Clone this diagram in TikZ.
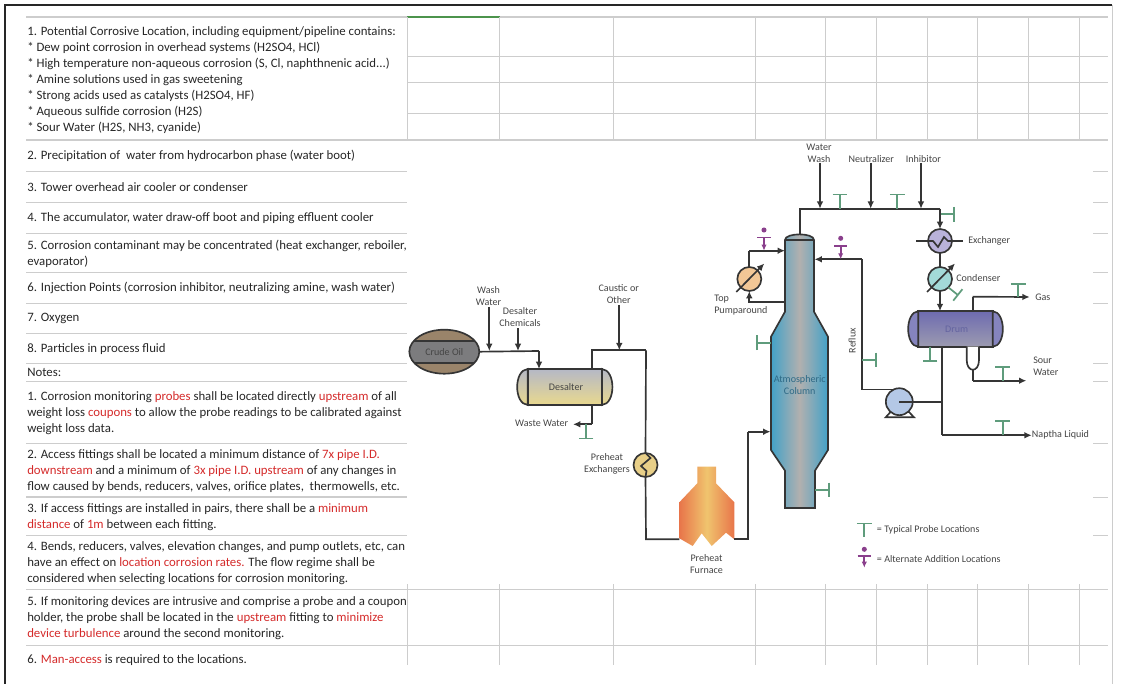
\documentclass[tikz,border=0pt]{standalone}
\usepackage{fontspec}
\setmainfont{Carlito}
\usepackage{xcolor}
\usetikzlibrary{positioning,arrows.meta,shapes.geometric}
\definecolor{textdark}{HTML}{262626}
\definecolor{textred}{HTML}{D42A2A}
\definecolor{tagtext}{HTML}{454545}
\definecolor{rulegray}{HTML}{CDCDCD}
\definecolor{pipedark}{HTML}{353535}
\definecolor{probegreen}{HTML}{5F9C7C}
\definecolor{addpurple}{HTML}{8A3F8C}
\definecolor{colblue}{HTML}{42A2C8}
\definecolor{colgray}{HTML}{B2B0AF}
\definecolor{coltext}{HTML}{2F6A86}
\definecolor{oiltan}{HTML}{9A846A}
\definecolor{oilgray}{HTML}{7C7C7E}
\definecolor{saltop}{HTML}{B5B8C6}
\definecolor{salbottom}{HTML}{E9D98E}
\definecolor{furnedge}{HTML}{E8754A}
\definecolor{furnmid}{HTML}{F0C46E}
\definecolor{prehxfill}{HTML}{E8CF88}
\definecolor{exfill}{HTML}{B9B2DA}
\definecolor{condfill}{HTML}{A3DAD8}
\definecolor{aroundfill}{HTML}{F2C796}
\definecolor{pumpfill}{HTML}{B4C8E6}
\definecolor{drumtop}{HTML}{6E6BB0}
\definecolor{drumbottom}{HTML}{9C9BB0}
\definecolor{drumcap}{HTML}{8584BE}
\definecolor{drumtext}{HTML}{6464A0}
\newcommand{\redtxt}[1]{\textcolor{textred}{#1}}
\begin{document}
\begin{tikzpicture}[
    x=0.75pt, y=-0.75pt,
    rowtext/.style={anchor=west, align=left, inner sep=0, text=textdark, font=\fontsize{9.6}{12}\selectfont},
    tag/.style={align=center, inner sep=0, text=tagtext, font=\fontsize{7.55}{9}\selectfont},
    lefttag/.style={tag, anchor=west, align=left},
    frameline/.style={draw=black!85, line width=1pt},
    rowrule/.style={draw=rulegray, line width=0.7pt},
    gridline/.style={draw=rulegray, line width=0.6pt},
    pipe/.style={draw=pipedark, line width=1.25pt},
    flow/.style={pipe, -{Latex[length=5.5pt,width=5pt]}},
    vessel/.style={draw=pipedark, line width=1.25pt, inner sep=0, outer sep=0},
    round/.style={vessel, circle, minimum size=18pt},
    probe/.style={draw=probegreen, line width=1.3pt, -{Bar[width=11pt,line width=1.3pt]}},
    addition/.style={draw=addpurple, line width=1.3pt, {Bar[width=10pt,line width=1.3pt]}-{Latex[length=4.5pt,width=4pt]}},
    adddot/.style={circle, fill=addpurple, inner sep=0, minimum size=3.8pt}
]
    \useasboundingbox (0,0) rectangle (1125,684);

    \draw[frameline] (5,684) -- (5,5) -- (1112,5);
    \draw[draw=black!20, line width=0.5pt] (1112,5) -- (1112,684);

    \draw[gridline, line width=0.9pt] (26,17) -- (1108,17);
    \draw[draw=black!60!green!70, line width=1pt] (407,17) -- (499.5,17);
    \draw[gridline] (407,56) -- (1108,56) (407,82) -- (1108,82) (407,113.7) -- (1108,113.7);
    \draw[gridline, line width=0.9pt] (26,140) -- (1108,140);
    \draw[gridline] (407,17) -- (407,140) (499.5,17) -- (499.5,140) (613.6,17) -- (613.6,140) (755,17) -- (755,140) (825.3,17) -- (825.3,140);
    \draw[gridline] (876,17) -- (876,140) (927,17) -- (927,140) (977.5,17) -- (977.5,140) (1028,17) -- (1028,140) (1079,17) -- (1079,140);

    \draw[rowrule] (26,171) -- (407,171) (26,202) -- (407,202) (26,233) -- (407,233) (26,272) -- (407,272);
    \draw[rowrule] (26,303) -- (407,303) (26,333) -- (407,333) (26,363.5) -- (407,363.5) (26,381) -- (407,381);
    \draw[rowrule] (26,443) -- (407,443) (26,535) -- (407,535);
    \draw[rowrule, line width=1pt] (26,497) -- (407,497) (26,589.5) -- (1108,589.5);
    \draw[rowrule] (26,645) -- (1108,645);
    \draw[rowrule] (1093,171) -- (1108,171) (1093,202) -- (1108,202) (1093,233) -- (1108,233) (1093,272) -- (1108,272) (1093,303) -- (1108,303);
    \draw[rowrule] (1093,363.5) -- (1108,363.5) (1093,381) -- (1108,381) (1093,443) -- (1108,443) (1093,497) -- (1108,497) (1093,535) -- (1108,535);
    \draw[gridline] (407,584) -- (407,665) (499.5,584) -- (499.5,665) (613.6,584) -- (613.6,665) (755,584) -- (755,665) (825.3,584) -- (825.3,665);
    \draw[gridline] (876,584) -- (876,665) (927,584) -- (927,665) (977.5,584) -- (977.5,665) (1028,584) -- (1028,665) (1079,584) -- (1079,665);

    \node[rowtext] (item1) at (27,80.5) {1. Potential Corrosive Location, including equipment/pipeline contains:\\* Dew point corrosion in overhead systems (H2SO4, HCl)\\* High temperature non-aqueous corrosion (S, Cl, naphthnenic acid...)\\* Amine solutions used in gas sweetening\\* Strong acids used as catalysts (H2SO4, HF)\\* Aqueous sulfide corrosion (H2S)\\* Sour Water (H2S, NH3, cyanide)};
    \node[rowtext] (item2) at (27,156) {2. Precipitation of\ \ water from hydrocarbon phase (water boot)};
    \node[rowtext] (item3) at (27,187) {3. Tower overhead air cooler or condenser};
    \node[rowtext] (item4) at (27,218) {4. The accumulator, water draw-off boot and piping effluent cooler};
    \node[rowtext] (item5) at (27,253.5) {5. Corrosion contaminant may be concentrated (heat exchanger, reboiler,\\evaporator)};
    \node[rowtext] (item6) at (27,287.5) {6. Injection Points (corrosion inhibitor, neutralizing amine, wash water)};
    \node[rowtext] (item7) at (27,318.5) {7. Oxygen};
    \node[rowtext] (item8) at (27,349) {8. Particles in process fluid};
    \node[rowtext] (notes) at (27,372.7) {Notes:};
    \node[rowtext] (note1) at (27,413) {1. Corrosion monitoring \redtxt{probes} shall be located directly \redtxt{upstream} of all\\weight loss \redtxt{coupons} to allow the probe readings to be calibrated against\\weight loss data.};
    \node[rowtext] (note2) at (27,471.5) {2. Access fittings shall be located a minimum distance of \redtxt{7x pipe I.D.}\\\redtxt{downstream} and a minimum of \redtxt{3x pipe I.D. upstream} of any changes in\\flow caused by bends, reducers, valves, orifice plates,\ \ thermowells, etc.};
    \node[rowtext] (note3) at (27,517) {3. If access fittings are installed in pairs, there shall be a \redtxt{minimum}\\\redtxt{distance} of \redtxt{1m} between each fitting.};
    \node[rowtext] (note4) at (27,563.5) {4. Bends, reducers, valves, elevation changes, and pump outlets, etc, can\\have an effect on \redtxt{location corrosion rates.} The flow regime shall be\\considered when selecting locations for corrosion monitoring.};
    \node[rowtext] (note5) at (27,618) {5. If monitoring devices are intrusive and comprise a probe and a coupon\\holder, the probe shall be located in the \redtxt{upstream} fitting to \redtxt{minimize}\\\redtxt{device turbulence} around the second monitoring.};
    \node[rowtext] (note6) at (27,660) {6. \redtxt{Man-access} is required to the locations.};

    \node[vessel, ellipse, minimum width=52.5pt, minimum height=33pt, fill=oilgray, path picture={
        \fill[oiltan] (path picture bounding box.north west) rectangle ++(70,11);
        \fill[oiltan] (path picture bounding box.south west) rectangle ++(70,-11);
        \draw[pipe] (path picture bounding box.north west) ++(0,11) -- ++(70,0);
        \draw[pipe] (path picture bounding box.south west) ++(0,-11) -- ++(70,0);
    }] (crude) at (444.3,351.7) {};
    \node[tag] (crudetag) at (444.3,351.7) {Crude Oil};

    \node[vessel, minimum width=55.7pt, minimum height=27pt, top color=saltop, bottom color=salbottom] (desalter) at (564.8,387) {};
    \draw[vessel, top color=saltop, bottom color=salbottom] (desalter.north west) .. controls +(-14,1) and +(-14,-1) .. (desalter.south west) -- cycle;
    \draw[vessel, top color=saltop, bottom color=salbottom] (desalter.north east) .. controls +(14,1) and +(14,-1) .. (desalter.south east) -- cycle;
    \node[tag] (desaltertag) at (566,387) {Desalter};

    \node[tag] (washtag) at (488.5,296) {Wash\\Water};
    \node[tag] (chemtag) at (520,317.5) {Desalter\\Chemicals};
    \node[tag] (caustictag) at (618.7,294.5) {Caustic or\\Other};
    \node[tag] (wastetag) at (541.7,423) {Waste Water};

    \coordinate (crudeline) at (539,351);
    \coordinate (washjoin) at (489.3,351);
    \coordinate (chemjoin) at (518,351);
    \coordinate (desalterin) at (539,369);
    \coordinate (desalterout) at (592,369);
    \coordinate (drainout) at (592,405);
    \coordinate (draincorner) at (592,424.3);
    \coordinate (wasteend) at (573,424.3);
    \coordinate (drainprobe) at (586,424.3);
    \coordinate (causticcorner) at (592,350.3);
    \coordinate (causticjoin) at (619.3,350.3);
    \coordinate (rundown) at (646,350.3);

    \draw[pipe] (crude.east) -- (crudeline);
    \draw[flow] (crudeline) -- (desalterin);
    \draw[flow] (washtag.south -| washjoin) ++(0,1) -- (washjoin);
    \draw[flow] (chemtag.south -| chemjoin) ++(0,1) -- (chemjoin);
    \draw[flow] (caustictag.south -| causticjoin) ++(0,1) -- (causticjoin);
    \draw[pipe] (desalterout) -- (causticcorner) -- (rundown);
    \draw[pipe] (drainout) -- (draincorner);
    \draw[flow] (draincorner) -- (wasteend);
    \draw[probe] (drainprobe) -- ++(0,15);

    \node[round, fill=prehxfill] (prehx) at (645.5,465) {};
    \node[tag, anchor=east, align=center] (prehxtag) at (630,464) {Preheat\\Exchangers};
    \draw[pipe] (prehx.north) -- ++(5,5) -- ++(-9.5,8) -- ++(5.5,5) -- (prehx.south);
    \draw[pipe] (rundown) -- (prehx.north);

    \path[left color=furnedge, right color=furnedge, middle color=furnmid] (697.3,466.7) -- (716,466.7) -- (716,483.3) -- (734.3,502.3) -- (734.3,539.3) -- (726,532.7) -- (711.7,546) -- (701.7,533.3) -- (692.7,546) -- (679.3,538.3) -- (679.3,502.3) -- (697.3,483.3) -- cycle;
    \node[tag] (furnacetag) at (706.5,564) {Preheat\\Furnace};
    \coordinate (furnacein) at (679.3,539.3);
    \coordinate (furnacecorner) at (646,539.3);
    \coordinate (furnaceout) at (734.3,539.3);
    \coordinate (risercorner) at (748,539.3);
    \coordinate (riser) at (748,431.7);
    \coordinate (colfeed) at (770.5,431.7);
    \draw[pipe] (prehx.south) -- (furnacecorner) -- (furnacein);
    \draw[pipe] (furnaceout) -- (risercorner) -- (riser);
    \draw[flow] (riser) -- (colfeed);

    \draw[vessel, left color=colblue, right color=colblue, middle color=colgray] (785,240) .. controls (785,232.5) and (814,232.5) .. (814,240) -- (814,311.7) -- (828,336.7) -- (828,450) -- (815,470.7) -- (815,508) -- (785,508) -- (785,470.7) -- (771,450) -- (771,336.7) -- (785,311.7) -- cycle;
    \draw[pipe] (785,240) -- (814,240);
    \node[tag, text=coltext] (columntag) at (799.7,385) {Atmospheric\\Column};
    \coordinate (coltop) at (800,234);
    \coordinate (coltopin) at (785,250.7);
    \coordinate (coltopout) at (785,302.3);
    \coordinate (colreflux) at (814.5,259.3);
    \coordinate (colprobeleft) at (771,342.7);
    \coordinate (colproberight) at (815,490);
    \draw[probe] (colprobeleft) -- ++(-15,0);
    \draw[probe] (colproberight) -- ++(15,0);

    \coordinate (overheadcorner) at (800,208.7);
    \coordinate (overheadend) at (940,208.7);
    \coordinate (washjointop) at (820,208.7);
    \coordinate (neutjoin) at (870.7,208.7);
    \coordinate (inhibjoin) at (921,208.7);
    \coordinate (overheadprobea) at (840,208.7);
    \coordinate (overheadprobeb) at (897.3,208.7);
    \coordinate (overheadprobec) at (940,214.3);
    \node[tag] (watertag) at (819,153) {Water\\Wash};
    \node[tag] (neuttag) at (871.3,159) {Neutralizer};
    \node[tag] (inhibtag) at (923.3,159) {Inhibitor};
    \draw[pipe] (coltop) -- (overheadcorner) -- (overheadend);
    \draw[flow] (watertag.south -| washjointop) -- (washjointop);
    \draw[flow] (neuttag.south -| neutjoin) -- (neutjoin);
    \draw[flow] (inhibtag.south -| inhibjoin) -- (inhibjoin);
    \draw[probe] (overheadprobea) -- ++(0,-15);
    \draw[probe] (overheadprobeb) -- ++(0,-15);
    \draw[probe] (overheadprobec) -- ++(15,0);

    \node[round, fill=exfill] (exchanger) at (940,241) {};
    \node[lefttag] (exchangertag) at (968,241) {Exchanger};
    \draw[flow] (overheadend) -- (exchanger.north);
    \draw[pipe] (exchanger.west) -- ++(5,0) -- ++(5,6) -- ++(6,-10) -- ++(4,4) -- (exchanger.east);
    \draw[pipe] (exchanger.west) -- ++(-12,0);
    \draw[pipe] (exchanger.east) -- ++(11,0);

    \node[round, fill=condfill] (condenser) at (940,279) {};
    \node[lefttag] (condensertag) at (956,278) {Condenser};
    \draw[pipe] (exchanger.south) -- (condenser.north);
    \draw[flow] ([shift={(-13,13)}]condenser.center) -- ([shift={(15,-15.5)}]condenser.center);
    \draw[probe] (condenser.-45) -- ++(10,8);

    \node[vessel, minimum width=55.8pt, minimum height=26.8pt, top color=drumtop, bottom color=drumbottom] (drum) at (955.5,329) {};
    \draw[vessel, fill=drumcap] (drum.north west) .. controls +(-13.5,1) and +(-13.5,-1) .. (drum.south west) -- cycle;
    \draw[vessel, fill=drumcap] (drum.north east) .. controls +(13.5,1) and +(13.5,-1) .. (drum.south east) -- cycle;
    \node[tag, text=drumtext] (drumtag) at (956.7,329) {Drum};
    \draw[flow] (condenser.south) -- (drum.north -| condenser.south);

    \coordinate (gasout) at (972.7,311);
    \coordinate (gascorner) at (972.7,296.7);
    \coordinate (gasjoin) at (1018.3,296.7);
    \node[lefttag] (gastag) at (1035,297) {Gas};
    \draw[pipe] (gasout) -- (gascorner);
    \draw[flow] (gascorner) -- ([xshift=-4pt]gastag.west);
    \draw[probe] (gasjoin) -- ++(0,-13.5);

    \coordinate (drumprobe) at (930,346.7);
    \draw[probe] (drumprobe) -- ++(0,15);

    \draw[vessel, fill=white] (966.7,346.7) -- (966.7,360) .. controls (966.7,373) and (979,373) .. (979,360) -- (979,346.7);
    \coordinate (bootend) at (972.9,370);
    \coordinate (bootcorner) at (972.9,380.7);
    \coordinate (bootjoin) at (1002.7,380.7);
    \node[lefttag] (sourtag) at (1033,366) {Sour\\Water};
    \draw[pipe] (bootend) -- (bootcorner);
    \draw[flow] (bootcorner) -- ([xshift=-5pt]bootcorner -| sourtag.west);
    \draw[probe] (bootjoin) -- ++(0,-14.7);

    \coordinate (drumout) at (941.7,346.7);
    \coordinate (naphthacorner) at (941.7,435.3);
    \coordinate (naphthajoin) at (1002.7,435.3);
    \coordinate (pumpjoin) at (941.7,401.7);
    \node[lefttag] (naphthatag) at (1031.7,435.3) {Naptha Liquid};
    \draw[pipe] (drumout) -- (naphthacorner);
    \draw[flow] (naphthacorner) -- (naphthatag.west);
    \draw[probe] (naphthajoin) -- ++(0,-15);

    \draw[pipe, fill=white] (885.7,417.3) -- (890.5,412) -- (909,412) -- (914,417.3) -- cycle;
    \node[vessel, circle, minimum size=20.2pt, fill=pumpfill] (pump) at (899.3,401.7) {};
    \draw[pipe] (pump.center) -- (pumpjoin);

    \coordinate (refluxtop) at (862.3,259.3);
    \coordinate (refluxprobe) at (862.3,360);
    \coordinate (refluxadd) at (840.7,259.3);
    \node[tag, rotate=90] (refluxtag) at (852.3,340.7) {Reflux};
    \draw[pipe] (pump.115) -- (pump.115 -| refluxtop) -- (refluxtop);
    \draw[flow] (refluxtop) -- (colreflux);
    \draw[probe] (refluxprobe) -- ++(14.5,0);

    \node[adddot] (refluxdot) at (840.7,238.3) {};
    \coordinate (refluxbar) at (840.7,245);
    \draw[addition] (refluxbar) -- (refluxadd);

    \node[round, fill=aroundfill] (pumparound) at (749.3,279) {};
    \node[lefttag] (pumparoundtag) at (714,305) {Top\\Pumparound};
    \coordinate (pumpbackcorner) at (749.3,302.3);
    \coordinate (pumptopcorner) at (749.3,250.7);
    \coordinate (pumptopadd) at (764,250.7);
    \draw[flow] (coltopout) -- (pumpbackcorner) -- (pumparound.south);
    \draw[pipe] (pumparound.north) -- (pumptopcorner);
    \draw[flow] (pumptopcorner) -- (coltopin);
    \draw[flow] ([shift={(-13,13)}]pumparound.center) -- ([shift={(15,-15.5)}]pumparound.center);
    \node[adddot] (pumparounddot) at (764,230) {};
    \coordinate (pumparoundbar) at (764,236.7);
    \draw[addition] (pumparoundbar) -- (pumptopadd);

    \coordinate (keyprobe) at (864.3,536.7);
    \draw[probe] (keyprobe) -- ++(0,-14);
    \node[lefttag] (keyprobetag) at (876.7,529.7) {= Typical Probe Locations};
    \node[adddot] (keydot) at (864.3,549.3) {};
    \coordinate (keybar) at (864.3,555);
    \coordinate (keytip) at (864.3,567.7);
    \draw[addition] (keybar) -- (keytip);
    \node[lefttag] (keyaddtag) at (876.7,559) {= Alternate Addition Locations};
\end{tikzpicture}
\end{document}
